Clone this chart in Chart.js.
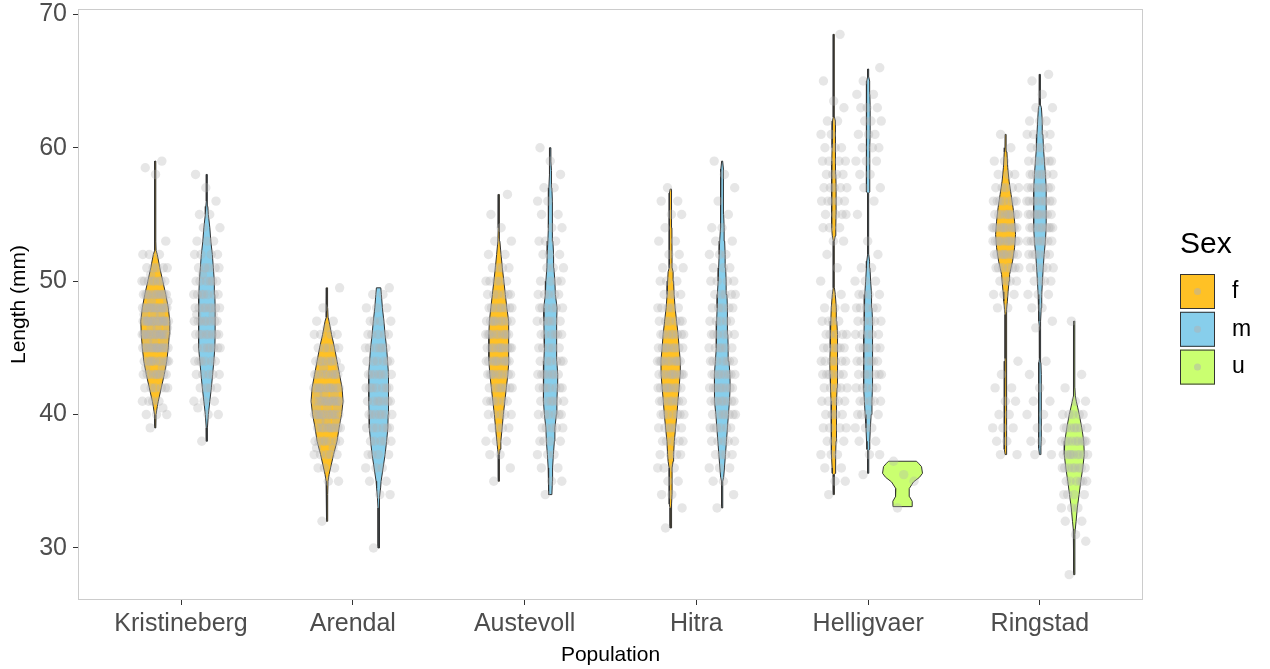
<!DOCTYPE html>
<html>
<head>
<meta charset="utf-8">
<title>Length by population and sex</title>
<script src="https://cdn.jsdelivr.net/npm/chart.js@4.4.1/dist/chart.umd.min.js"></script>
<style>
  html, body { margin: 0; padding: 0; background: #ffffff; }
  #wrap { width: 1270px; height: 669px; }
</style>
</head>
<body>
<div id="wrap"><canvas id="c" width="1270" height="669"></canvas></div>
<script>
// ---- categories and labels ----
const POPULATIONS = ['Kristineberg', 'Arendal', 'Austevoll', 'Hitra', 'Helligvaer', 'Ringstad'];
const SEXES = ['f', 'm', 'u'];
const SEX_COLORS = ['#FFC125', '#87CEEB', '#CAFF70'];
const Y_TICKS = [30, 40, 50, 60, 70];
const X_TITLE = 'Population';
const Y_TITLE = 'Length (mm)';
const LEGEND_TITLE = 'Sex';

// ---- violin outlines: [length (mm), relative density half-width] ----
const VIO_KRI_F = [[39,0.5],[40,0.8],[40.6,2],[41,3],[42,6],[43,9],[44,11.5],[45,13],[46,14],[47,14.5],[48,13],[49,10.5],[50,7.5],[51,4.5],[52,2],[52.3,0.8],[53,0.5],[59,0.5]];
const VIO_KRI_M = [[38,0.5],[39,0.6],[40,1.5],[41,3],[42,4.5],[43,5.8],[44,7],[45,8],[46,8.3],[47,8.3],[48,8.3],[49,8],[50,7.5],[51,6.5],[52,5.5],[53,4],[54,3],[55,1.5],[55.6,1],[56,0.5],[58,0.5]];
const VIO_ARE_F = [[32,0.5],[34,0.6],[35,1],[35.5,2],[36,3.5],[37,6.5],[38,10],[39,12],[40,14.5],[41,16],[42,15],[43,12.5],[44,10],[45,7.5],[46,4.5],[47,2],[47.3,1],[48,0.6],[49.5,0.5]];
const VIO_ARE_M = [[30,0.5],[33,0.6],[33.8,1.2],[34.5,2],[35,2.5],[36,4.5],[37,6.5],[38,8],[39,9.3],[40,9.5],[41,9.7],[42,10],[43,10],[44,9],[45,8],[46,6.5],[47,5.3],[48,3.8],[49,2.8],[49.5,2.2]];
const VIO_AUS_F = [[35,0.5],[37,0.6],[37.4,1.2],[38,2],[39,3.3],[40,4.5],[41,6],[42,7.5],[43,9],[44,10],[45,10],[46,10],[47,9.5],[48,8],[49,6.5],[50,5],[51,3.5],[52,2.2],[53,1],[54,0.6],[56.5,0.5]];
const VIO_AUS_M = [[34,1.5],[35,2],[36,2.2],[37,3],[38,4],[39,4.5],[40,6],[41,6.5],[42,7],[43,7.3],[44,6.5],[45,6],[46,6.3],[47,6.5],[48,6.7],[49,5],[50,4.5],[51,3.5],[52,3.2],[53,2.5],[54,2],[55,2],[56,2],[57,1.5],[58,1.2],[58.3,1],[59,0.5],[60,0.5]];
const VIO_HIT_F = [[31.5,0.5],[33,0.6],[33.3,1.3],[34,1.4],[35,1.4],[36,1.5],[36.5,2.5],[37,3],[38,3.7],[39,5],[40,6.3],[41,7.3],[42,8.5],[43,9.5],[44,9.7],[45,8.5],[46,7.5],[47,6],[48,4.5],[49,3.5],[50,3],[50.7,2.5],[51,1.5],[52,1.4],[54,1.3],[56.6,1.3],[56.9,0.5]];
const VIO_HIT_M = [[33,0.5],[35,0.6],[35.3,1.5],[36,2.3],[37,3.3],[38,4.3],[39,5.3],[40,6.3],[41,7.3],[42,8],[43,7.8],[44,6.8],[45,6],[46,5.7],[47,5.5],[48,5],[49,4.8],[50,4],[51,3.5],[52,3],[53,2.5],[54,2],[55,1.5],[56,1.3],[58.4,1.3],[59,0.5]];
const VIO_HEL_F = [[34,0.5],[35.5,0.6],[35.6,1.5],[36,1.7],[37,2],[38,2.2],[39,2.5],[40,2.8],[41,2.8],[42,3.3],[43,3.8],[44,4],[45,3.8],[46,3.3],[47,3],[48,2.5],[49,1.5],[49.5,0.6],[50,0.5],[53,0.5],[53.4,1.5],[54,2],[55,2.2],[56,2.3],[57,2.3],[58,2],[59,2],[60,1.8],[61,1.6],[62,1.3],[62.3,0.6],[63,0.5],[68.5,0.5]];
const VIO_HEL_M = [[35.6,0.5],[37.3,0.6],[37.4,1.2],[38,1.6],[39,2.2],[40,3],[41,3.8],[42,4.3],[43,4.6],[44,4.7],[45,4.5],[46,4.2],[47,4],[48,3.8],[49,3.4],[50,2.5],[51,1.8],[51.5,1.4],[52,0.6],[52.2,0.5],[56.6,0.5],[56.7,1.5],[59,1.5],[60,1.7],[61,2],[63,2],[64,1.7],[65,1.5],[65.3,0.6],[65.9,0.5]];
const VIO_HEL_U = [[33.1,9.5],[33.5,9.7],[33.85,7],[34.45,6.7],[34.95,11],[35.3,17],[35.6,20],[36.1,19],[36.35,16],[36.5,14]];
const VIO_RIN_F = [[37,0.5],[37.4,1.2],[38,1.3],[40,1.4],[42,1.4],[43,1.3],[43.9,1.2],[44,0.6],[44.2,0.5],[47.5,0.5],[47.9,1],[48.5,1.8],[49.2,2.5],[50,3.5],[50.5,4],[51.5,7],[52.5,9],[53.5,10],[54.5,9],[55.5,7.5],[56.5,5.5],[57.5,3.5],[58.5,2.2],[59.7,1.3],[60,0.6],[61,0.5]];
const VIO_RIN_M = [[37,0.5],[37.5,1],[38,1.3],[39,1.5],[41,1.5],[42,1.3],[43,1.2],[43.9,1],[44.2,0.5],[46,0.5],[46.6,0.6],[47,1],[48,1.3],[49,1.8],[50,2.5],[51,3.3],[52,4.2],[53,5.5],[54,6.2],[55,6.3],[56,6.3],[57,6.2],[58,5.5],[59,4.5],[60,3.5],[61,3],[62,2.3],[63,1.5],[63.2,0.6],[65.5,0.5]];
const VIO_RIN_U = [[28,0.5],[31,0.6],[31.4,1],[32,1.8],[33,3],[34,4.8],[35,6.5],[36,8.5],[37,10],[38,9.5],[39,7.5],[40,5],[40.5,3.5],[41,2],[41.4,1],[42,0.6],[47,0.5]];

// ---- individual measurements: [length (mm), number of animals] ----
const PTS_KRI_F = [[39,1],[40,3],[40.5,1],[41,4],[42,6],[43,9],[43.5,2],[44,10],[45,14],[45.5,3],[46,15],[46.5,3],[47,15],[47.5,3],[48,13],[48.5,2],[49,11],[50,8],[50.5,1],[51,5],[52,3],[53,1],[58,1],[58.5,1],[59,1]];
const PTS_KRI_M = [[38,1],[40,2],[40.5,1],[41,3],[42,4],[43,5],[44,6],[45,7],[46,8],[47,8],[47.5,2],[48,8],[49,7],[50,6],[50.5,1],[51,5],[52,4],[53,3],[54,2],[55,2],[56,1],[57,1],[58,1]];
const PTS_ARE_F = [[32,1],[35,2],[36,3],[37,5],[37.5,2],[38,7],[39,9],[39.5,3],[40,11],[40.5,3],[41,12],[41.5,3],[42,11],[43,9],[43.5,2],[44,7],[45,5],[46,4],[46.5,1],[47,2],[48,1],[49.5,1]];
const PTS_ARE_M = [[30,1],[34,2],[35,2],[36,3],[37,4],[38,5],[39,6],[40,7],[41,7],[42,7],[43,7],[44,6],[45,6],[46,5],[47,4],[48,3],[49,2],[49.5,1]];
const PTS_AUS_F = [[35,1],[36,1],[37,2],[38,3],[39,4],[40,5],[41,6],[42,7],[43,9],[44,10],[45,10],[46,10],[47,9],[48,8],[49,6],[50,5],[51,4],[52,2],[53,2],[54,1],[55,1],[56.5,1]];
const PTS_AUS_M = [[34,1],[35,2],[36,2],[37,3],[38,4],[39,5],[40,6],[41,6],[42,7],[43,7],[44,6],[45,5],[46,6],[47,6],[48,6],[49,5],[50,4],[51,3],[52,3],[53,3],[54,2],[55,2],[56,2],[57,2],[58,1],[59,1],[60,1]];
const PTS_HIT_F = [[31.5,1],[33,1],[34,2],[35,2],[36,3],[37,4],[38,5],[39,6],[40,7],[41,8],[42,9],[43,10],[44,10],[45,9],[46,8],[47,6],[48,5],[49,4],[50,3],[51,3],[52,2],[53,2],[54,1],[55,2],[56,2],[57,1]];
const PTS_HIT_M = [[33,1],[34,1],[35,2],[36,3],[37,4],[38,5],[39,6],[40,7],[41,8],[42,8],[43,8],[44,7],[45,6],[46,6],[47,5],[48,5],[49,5],[50,4],[51,3],[52,3],[53,2],[54,2],[55,1],[56,1],[57,1],[58,1],[59,1]];
const PTS_HEL_F = [[34,1],[35,2],[36,2],[37,3],[38,3],[39,4],[40,4],[41,5],[42,5],[43,6],[44,6],[45,6],[46,5],[47,4],[48,3],[49,2],[50,1],[51,1],[52,1],[53,2],[54,3],[55,4],[56,5],[57,5],[58,4],[59,4],[60,3],[61,2],[62,2],[63,1],[63.5,1],[65,1],[68.5,1]];
const PTS_HEL_M = [[35.5,1],[37,2],[38,2],[39,3],[40,4],[41,5],[42,5],[43,6],[44,6],[45,6],[46,5],[47,5],[48,5],[49,4],[50,3],[51,2],[52,1],[53,1],[55,1],[56,1],[57,2],[58,2],[59,3],[60,3],[61,3],[62,3],[63,3],[64,2],[65,1],[66,1]];
const PTS_HEL_U = [[33,1],[35,1],[35.5,1],[36.5,1]];
const PTS_RIN_F = [[37,2],[38,2],[39,3],[40,2],[41,2],[42,2],[43,1],[44,1],[48,2],[49,3],[50,4],[51,7],[52,9],[53,11],[54,11],[55,9],[56,7],[57,5],[58,3],[59,2],[60,1],[61,1]];
const PTS_RIN_M = [[37,2],[38,2],[39,2],[40,2],[41,2],[42,1],[43,1],[44,1],[46.5,1],[47,1],[48,2],[49,3],[50,4],[51,5],[52,6],[53,8],[54,9],[55,9],[56,9],[57,8],[58,7],[59,6],[60,4],[61,4],[62,3],[63,2],[64,1],[65,1],[65.5,1]];
const PTS_RIN_U = [[28,1],[30.5,1],[31,1],[32,2],[33,3],[34,4],[35,6],[36,8],[37,9],[38,9],[39,7],[40,5],[41,2],[42,1],[43,1],[47,1]];

// ---- group table (population index, sex index, outline, measurements) ----
const GROUPS = [
  { pop: 0, sex: 0, violin: VIO_KRI_F, points: PTS_KRI_F },
  { pop: 0, sex: 1, violin: VIO_KRI_M, points: PTS_KRI_M },
  { pop: 1, sex: 0, violin: VIO_ARE_F, points: PTS_ARE_F },
  { pop: 1, sex: 1, violin: VIO_ARE_M, points: PTS_ARE_M },
  { pop: 2, sex: 0, violin: VIO_AUS_F, points: PTS_AUS_F },
  { pop: 2, sex: 1, violin: VIO_AUS_M, points: PTS_AUS_M },
  { pop: 3, sex: 0, violin: VIO_HIT_F, points: PTS_HIT_F },
  { pop: 3, sex: 1, violin: VIO_HIT_M, points: PTS_HIT_M },
  { pop: 4, sex: 0, violin: VIO_HEL_F, points: PTS_HEL_F },
  { pop: 4, sex: 1, violin: VIO_HEL_M, points: PTS_HEL_M },
  { pop: 4, sex: 2, violin: VIO_HEL_U, points: PTS_HEL_U },
  { pop: 5, sex: 0, violin: VIO_RIN_F, points: PTS_RIN_F },
  { pop: 5, sex: 1, violin: VIO_RIN_M, points: PTS_RIN_M },
  { pop: 5, sex: 2, violin: VIO_RIN_U, points: PTS_RIN_U }
];

// ---- geometry settings (category units on the x scale) ----
const DODGE_WIDTH = 0.6;      // room shared by the sexes within one population
const VIOLIN_SCALE = 0.00582; // x units per density unit
const JITTER = 0.078;         // half-width of the sideways point spread
const FONT = '"Liberation Sans", Arial, Helvetica, sans-serif';

function slotCentre(g) {
  const members = GROUPS.filter(h => h.pop === g.pop);
  const j = members.indexOf(g);
  const n = members.length;
  return (g.pop + 1) - DODGE_WIDTH / 2 + DODGE_WIDTH * (j + 0.5) / n;
}

const datasets = [];

// violin bodies: right edge upward, left edge back down
GROUPS.forEach(g => {
  const c = slotCentre(g);
  const right = g.violin.map(([v, w]) => ({ x: c + w * VIOLIN_SCALE, y: v }));
  const left = g.violin.slice().reverse().map(([v, w]) => ({ x: c - w * VIOLIN_SCALE, y: v }));
  datasets.push({
    type: 'line',
    label: POPULATIONS[g.pop] + ' ' + SEXES[g.sex],
    data: right.concat(left, [right[0]]),
    order: 2,
    fill: 'shape',
    backgroundColor: SEX_COLORS[g.sex],
    borderColor: '#333333',
    borderWidth: 1,
    borderJoinStyle: 'miter',
    pointRadius: 0,
    pointHoverRadius: 0,
    tension: 0
  });
});

// individual animals, spread sideways in a fixed repeatable order
GROUPS.forEach(g => {
  const c = slotCentre(g);
  const pts = [];
  let i = 0;
  g.points.forEach(([v, count]) => {
    for (let k = 0; k < count; k++) {
      const f = (i * 0.6180339887 + 0.31) % 1;
      pts.push({ x: c + JITTER * (2 * f - 1), y: v });
      i++;
    }
  });
  datasets.push({
    type: 'scatter',
    label: POPULATIONS[g.pop] + ' ' + SEXES[g.sex] + ' points',
    data: pts,
    order: 1,
    pointRadius: 4.7,
    pointHoverRadius: 4.7,
    pointBorderWidth: 0,
    backgroundColor: 'rgba(178,178,178,0.32)',
    borderColor: 'rgba(0,0,0,0)'
  });
});

// light panel frame drawn over the data
const panelFrame = {
  id: 'panelFrame',
  afterDatasetsDraw(chart) {
    const { ctx, chartArea: a } = chart;
    ctx.save();
    ctx.strokeStyle = '#CCCCCC';
    ctx.lineWidth = 1;
    ctx.strokeRect(Math.round(a.left) + 0.5, Math.round(a.top) + 0.5,
                   Math.round(a.right - a.left) - 1, Math.round(a.bottom - a.top) - 1);
    ctx.restore();
  }
};

// fill legend for sex
const sexLegend = {
  id: 'sexLegend',
  afterDraw(chart) {
    const ctx = chart.ctx;
    const x0 = chart.chartArea.right + 37;
    ctx.save();
    ctx.fillStyle = '#000000';
    ctx.font = '30px ' + FONT;
    ctx.textAlign = 'left';
    ctx.textBaseline = 'alphabetic';
    ctx.fillText(LEGEND_TITLE, x0, 253);
    const size = 35, step = 37.8, top = 274;
    SEXES.forEach((s, i) => {
      const y = top + i * step;
      ctx.fillStyle = SEX_COLORS[i];
      ctx.fillRect(x0, y, size, size);
      ctx.strokeStyle = '#333333';
      ctx.lineWidth = 1;
      ctx.strokeRect(x0 + 0.5, y + 0.5, size - 1, size - 1);
      ctx.fillStyle = 'rgba(178,178,178,0.5)';
      ctx.beginPath();
      ctx.arc(x0 + size / 2, y + size / 2, 3.5, 0, Math.PI * 2);
      ctx.fill();
      ctx.fillStyle = '#000000';
      ctx.font = '23px ' + FONT;
      ctx.textBaseline = 'middle';
      ctx.fillText(s, x0 + size + 17, y + size / 2);
    });
    ctx.restore();
  }
};

Chart.defaults.font.family = FONT;

new Chart(document.getElementById('c'), {
  type: 'scatter',
  data: { datasets },
  options: {
    responsive: false,
    animation: false,
    devicePixelRatio: 1,
    events: [],
    layout: { padding: { left: 0, right: 127, top: 9, bottom: 0 } },
    plugins: {
      legend: { display: false },
      tooltip: { enabled: false },
      filler: { propagate: false }
    },
    scales: {
      x: {
        type: 'linear',
        min: 0.4,
        max: 6.6,
        afterBuildTicks: s => { s.ticks = POPULATIONS.map((_, i) => ({ value: i + 1 })); },
        afterFit: s => { s.height = 69; s.paddingLeft = 0; s.paddingRight = 0; },
        ticks: {
          callback: v => POPULATIONS[Math.round(v) - 1] || '',
          font: { size: 25 },
          color: '#4D4D4D',
          padding: 4,
          autoSkip: false,
          maxRotation: 0
        },
        grid: { drawOnChartArea: false, drawTicks: true, tickLength: 5, color: '#333333' },
        border: { display: false },
        title: { display: true, text: X_TITLE, font: { size: 21 }, color: '#000000', padding: { top: 0, bottom: 1 } }
      },
      y: {
        type: 'linear',
        min: 26.1,
        max: 70.4,
        afterBuildTicks: s => { s.ticks = Y_TICKS.map(v => ({ value: v })); },
        afterFit: s => { s.width = 78; s.paddingTop = 0; s.paddingBottom = 0; },
        ticks: { font: { size: 25 }, color: '#4D4D4D', padding: 6 },
        grid: { drawOnChartArea: false, drawTicks: true, tickLength: 5, color: '#333333' },
        border: { display: false },
        title: { display: true, text: Y_TITLE, font: { size: 21 }, color: '#000000', padding: { top: 7, bottom: 0 } }
      }
    }
  },
  plugins: [panelFrame, sexLegend]
});
</script>
</body>
</html>
